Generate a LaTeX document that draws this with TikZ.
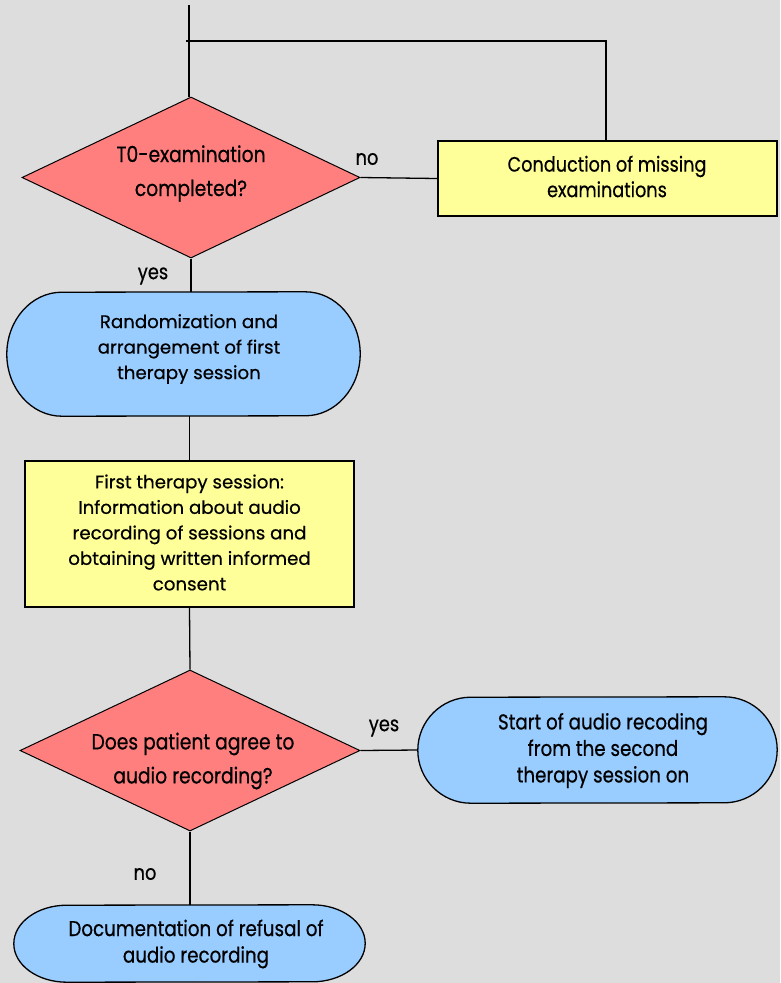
\documentclass[tikz,border=0pt]{standalone}
\usepackage{fontspec}
\setmainfont{Poppins}[FakeBold=0.5]
\newfontfamily\condfont{Poppins}[FakeStretch=0.85,FakeBold=0.5]
\usetikzlibrary{shapes.geometric,calc}
\definecolor{bgc}{HTML}{DDDDDD}
\definecolor{redc}{HTML}{FF7F7F}
\definecolor{yelc}{HTML}{FFFF99}
\definecolor{bluc}{HTML}{99CCFF}
\tikzset{
  txt/.style={font=\fontsize{18.2}{25.5}\selectfont, align=center, text=black, inner sep=0pt},
  ctxt/.style={font=\condfont\fontsize{21.5}{26.5}\selectfont, align=center, text=black, inner sep=0pt},
  dtxt/.style={font=\condfont\fontsize{22}{34}\selectfont, align=center, text=black, inner sep=0pt},
  dec/.style={shape=diamond, aspect=2.1, draw=black, line width=1pt, fill=redc, inner sep=0pt},
  boxy/.style={shape=rectangle, draw=black, line width=2.4pt, fill=yelc},
  termbox/.style={shape=rectangle, inner sep=0pt},
  termline/.style={draw=black, line width=1.3pt, fill=bluc},
  conn/.style={draw=black, line width=1.3pt},
  lbl/.style={font=\condfont\fontsize{21}{24}\selectfont, text=black, inner sep=0pt}
}
\newcommand{\stadium}[3]{%
  \path[termline] ($(#1.north east)+(-#2,0)$)
    arc[start angle=90,end angle=-90,x radius=#2pt,y radius=#3pt]
    -- ($(#1.south west)+(#2,0)$)
    arc[start angle=270,end angle=90,x radius=#2pt,y radius=#3pt]
    -- cycle;}
\begin{document}
\begin{tikzpicture}[x=1pt,y=-1pt]
\fill[bgc] (0,0) rectangle (780,983);
\useasboundingbox (0,0) rectangle (780,983);

% shapes
\node[dec, minimum width=338pt, minimum height=161pt] (d1) at (191,177.5) {};
\node[boxy, minimum width=339pt, minimum height=75pt] (r1) at (607.5,178.5) {};
\node[termbox, minimum width=353pt, minimum height=124pt] (s1) at (183.5,354) {};
\stadium{s1}{55}{62}
\node[boxy, minimum width=329pt, minimum height=146pt] (r2) at (189.5,534) {};
\node[dec, minimum width=340pt, minimum height=161pt] (d2) at (190,750.5) {};
\node[termbox, minimum width=359pt, minimum height=106pt] (s2) at (597.5,750) {};
\stadium{s2}{53}{53}
\node[termbox, minimum width=351pt, minimum height=77pt] (s3) at (189.5,943.5) {};
\stadium{s3}{53}{38.5}

% texts
\node[dtxt] (d1t) at (191,173.5) {T0-examination\\completed?};
\node[ctxt, font=\condfont\fontsize{20.8}{25.5}\selectfont] (r1t) at (607,176.5) {Conduction of missing\\examinations};
\node[txt] (s1t) at (189,349) {Randomization and\\arrangement of first\\therapy session};
\node[txt] (r2t) at (189.5,532.5) {First therapy session:\\Information about audio\\recording of sessions and\\obtaining written informed\\consent};
\node[dtxt] (d2t) at (193,761) {Does patient agree to\\audio recording?};
\node[ctxt] (s2t) at (603,750.5) {Start of audio recoding\\from the second\\therapy session on};
\node[ctxt] (s3t) at (196,944) {Documentation of refusal of\\audio recording};

% connectors
\coordinate (top) at (189,5);
\coordinate (j) at (186,41);
\coordinate (jr) at (606,41);

\draw[conn] (top) -- (top |- d1.north);
\draw[conn, line width=2.4pt] (j) -- (jr) -- (jr |- r1.north);
\draw[conn] (d1.east) -- (r1.west);
\draw[conn] (d1.south) -- (d1.south |- s1.north);
\draw[conn] (r2.north |- s1.south) -- (r2.north);
\draw[conn] (r2.south) -- (d2.north);
\draw[conn] (d2.east) -- (s2.west);
\draw[conn] (d2.south) -- (d2.south |- s3.north);

% labels
\node[lbl] (l1) at (367,159) {no};
\node[lbl] (l2) at (153,276) {yes};
\node[lbl] (l3) at (384,728) {yes};
\node[lbl] (l4) at (145,874) {no};
\end{tikzpicture}
\end{document}
